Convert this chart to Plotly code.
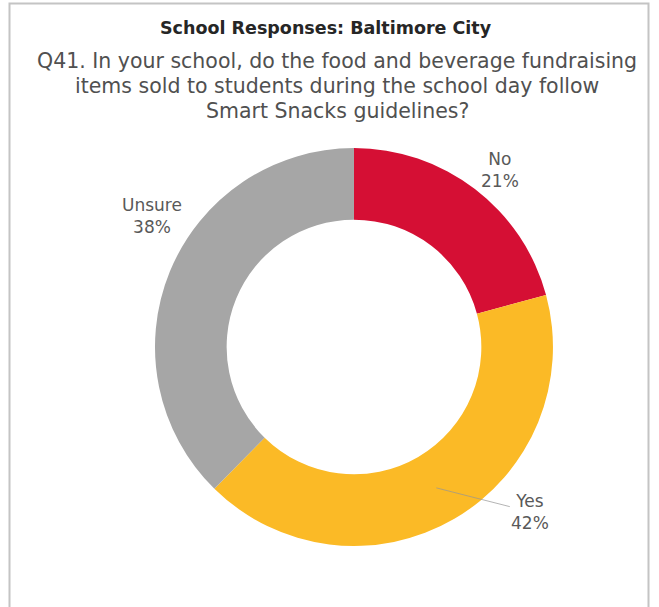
import math
import plotly.graph_objects as go

# Survey responses (percent of schools)
categories = ["No", "Yes", "Unsure"]
percents = [21, 42, 38]
slice_colors = ["#D50F34", "#FBBA26", "#A6A6A6"]

title_text = "<b>School Responses: Baltimore City</b>"
question_lines = ["Q41. In your school, do the food and beverage fundraising",
                  "items sold to students during the school day follow",
                  "Smart Snacks guidelines?"]

W, H = 659, 607
HOLE = 0.64
dom_x = [0.2352, 0.8391]
dom_y = [0.1005, 0.7562]
FONT = "DejaVu Sans"

# label placement: pixel offset of each label from the middle of its ring segment
label_offsets = {"No": (47, -47), "Yes": (94, 24), "Unsure": (-51, -69)}
leader_lines = {"No": False, "Yes": True, "Unsure": False}

fig = go.Figure(go.Pie(
    labels=categories,
    values=percents,
    hole=HOLE,
    sort=False,
    direction="clockwise",
    rotation=0,
    marker=dict(colors=slice_colors, line=dict(width=0)),
    textinfo="none",
    hoverinfo="label+percent",
    showlegend=False,
    domain=dict(x=dom_x, y=dom_y),
))

# geometry of the ring in pixels, used to anchor the labels to their slices
cx = (dom_x[0] + dom_x[1]) / 2 * W
cy = H - (dom_y[0] + dom_y[1]) / 2 * H
r_out = min((dom_x[1] - dom_x[0]) * W, (dom_y[1] - dom_y[0]) * H) / 2
r_mid = r_out * (1 + HOLE) / 2
total = sum(percents)
start = 0.0
for cat, val in zip(categories, percents):
    span = val / total * 360
    mid = math.radians(start + span / 2)
    start += span
    px = cx + r_mid * math.sin(mid)
    py = cy - r_mid * math.cos(mid)
    dx, dy = label_offsets[cat]
    fig.add_annotation(
        x=px / W, y=1 - py / H, xref="paper", yref="paper",
        text=f"{cat}<br>{val}%",
        showarrow=True, arrowhead=0, arrowwidth=1,
        arrowcolor="rgba(150,150,150,0.7)" if leader_lines[cat] else "rgba(0,0,0,0)",
        ax=dx, ay=dy, standoff=0,
        font=dict(family=FONT, size=17, color="#595959"),
        align="center",
    )

fig.add_annotation(
    x=326 / W, y=1 - 28 / H, xref="paper", yref="paper",
    text=title_text, showarrow=False, xanchor="center", yanchor="middle",
    font=dict(family=FONT, size=17.5, color="#262626"),
)
for i, line in enumerate(question_lines):
    fig.add_annotation(
        x=337 / W, y=1 - (61 + 25 * i) / H, xref="paper", yref="paper",
        text=line, showarrow=False, xanchor="center", yanchor="middle",
        font=dict(family=FONT, size=20.5, color="#505050"),
    )

# light frame around the panel (open at the bottom)
fig.add_shape(type="rect", xref="paper", yref="paper",
              x0=9.5 / W, x1=648.5 / W, y0=-0.1, y1=1 - 3.5 / H,
              line=dict(color="#C4C4C4", width=2), fillcolor="rgba(0,0,0,0)")

fig.update_layout(
    width=W, height=H,
    margin=dict(l=0, r=0, t=0, b=0),
    paper_bgcolor="white", plot_bgcolor="white",
)

fig.write_html("out.html")
